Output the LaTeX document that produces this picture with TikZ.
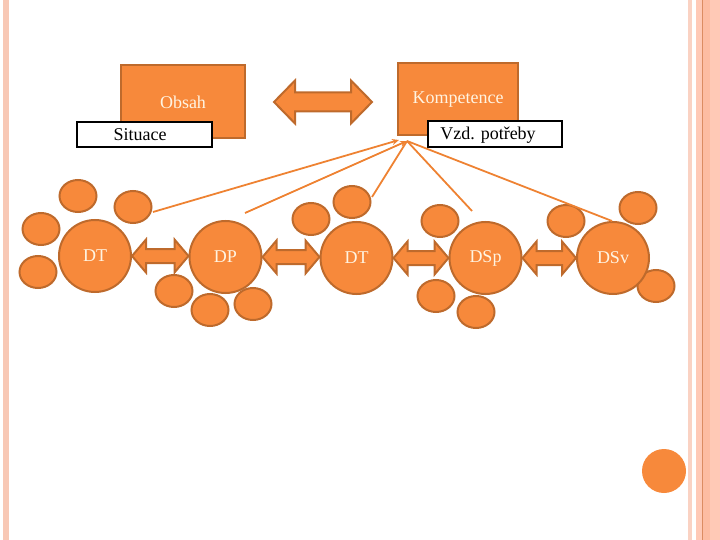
\documentclass[tikz,border=0pt]{standalone}
\usepackage{fontspec}
\setmainfont{Liberation Serif}
\usetikzlibrary{shapes.geometric,calc,arrows.meta}
\definecolor{orfill}{HTML}{F7893B}
\definecolor{ordraw}{HTML}{BE6A2C}
\definecolor{ortext}{HTML}{FFF4E2}
\definecolor{orline}{HTML}{EE8232}
\definecolor{stripeA}{HTML}{F8C8B5}
\definecolor{stripeB}{HTML}{FAD2C3}
\definecolor{stripeC}{HTML}{FFC9B6}
\definecolor{stripeD}{HTML}{FDBCA2}
\definecolor{stripeE}{HTML}{DC8C62}
\tikzset{
  txt/.style={font=\fontsize{18}{20}\selectfont},
  obox/.style={txt, draw=ordraw, fill=orfill, line width=2pt, text=ortext, inner sep=0pt},
  wbox/.style={txt, draw=black, fill=white, line width=2.2pt, inner sep=0pt},
  bigc/.style={txt, circle, draw=ordraw, fill=orfill, line width=2pt, text=ortext, minimum size=72pt, inner sep=0pt},
  smallc/.style={ellipse, draw=ordraw, fill=orfill, line width=2pt, minimum width=37pt, minimum height=32pt, inner sep=0pt},
  fatarr/.style={draw=ordraw, fill=orfill, line width=2pt, line join=miter},
  conn/.style={draw=orline, line width=1.8pt},
  connarr/.style={conn, -{Stealth[length=7pt,width=6pt]}}
}
\newcommand\fatarrow[5]{%
  \path[fatarr] let \p1=(#1), \p2=(#2) in
    (\x1,\y1) -- (\x1+#3pt,\y1+#4pt) -- (\x1+#3pt,\y1+#5pt) -- (\x2-#3pt,\y1+#5pt)
    -- (\x2-#3pt,\y1+#4pt) -- (\x2,\y1) -- (\x2-#3pt,\y1-#4pt) -- (\x2-#3pt,\y1-#5pt)
    -- (\x1+#3pt,\y1-#5pt) -- (\x1+#3pt,\y1-#4pt) -- cycle;}
\begin{document}
\begin{tikzpicture}[x=1pt,y=-1pt]
\useasboundingbox (0,0) rectangle (720,540);
% decorative stripes
\fill[stripeA] (3,0) rectangle (9,540);
\fill[stripeB] (688,0) rectangle (692,540);
\fill[stripeC] (696,0) rectangle (720,540);
\fill[stripeD] (703,0) rectangle (710,540);
\fill[stripeE] (701.5,0) rectangle (703,540);
% top boxes
\node[obox, minimum width=124pt, minimum height=73pt] (obsah) at (183,101.5) {};
\node[txt, text=ortext] (obsahT) at (183,102) {Obsah};
\node[obox, minimum width=120pt, minimum height=72pt] (komp) at (458,99) {};
\node[txt, text=ortext] (kompT) at (458,100) {Kompetence};
\node[wbox, minimum width=135pt, minimum height=25pt] (sit) at (144.5,134.5) {};
\node[txt] (sitT) at (140,135) {Situace};
\node[wbox, minimum width=134pt, minimum height=26pt] (vzd) at (495,134) {};
\node[txt] (vzdT) at (488,135) {Vzd. potřeby};
% top double arrow
\coordinate (al) at (274,102);
\coordinate (ar) at (372,102);
\fatarrow{al}{ar}{21}{21.5}{9.5}
% small circles
\node[smallc] (s1) at (78,196) {};
\node[smallc] (s2) at (133,207) {};
\node[smallc] (s3) at (41,229) {};
\node[smallc] (s4) at (38,272) {};
\node[smallc] (s5) at (174,291) {};
\node[smallc] (s6) at (210,310) {};
\node[smallc] (s7) at (253,304) {};
\node[smallc] (s8) at (311,219) {};
\node[smallc] (s9) at (352,202) {};
\node[smallc] (s10) at (440,221) {};
\node[smallc] (s11) at (436,296) {};
\node[smallc] (s12) at (476,312) {};
\node[smallc] (s13) at (566,221) {};
\node[smallc] (s14) at (638,208) {};
\node[smallc] (s15) at (656,286) {};
% big circles
\node[bigc] (dt1) at (95,256) {DT};
\node[bigc] (dp) at (225.5,257) {DP};
\node[bigc] (dt2) at (356.5,258) {DT};
\node[bigc] (dsp) at (485.5,258) {DSp};
\node[bigc] (dsv) at (613,258) {DSv};
% double arrows between circles
\fatarrow{dt1.east}{dp.west}{14}{16.5}{7}
\fatarrow{dp.east}{dt2.west}{14}{16.5}{7}
\fatarrow{dt2.east}{dsp.west}{14}{16.5}{7}
\fatarrow{dsp.east}{dsv.west}{14}{16.5}{7}
% converging connectors
\coordinate (k1) at (399,140);
\coordinate (k2) at (407,141);
\coordinate (c1) at (153,212);
\coordinate (c2) at (245,213);
\coordinate (c3) at (372,197);
\coordinate (c4) at (472,211);
\coordinate (c5) at (612,221);
\draw[connarr] (c1) -- (k1);
\draw[connarr] (c2) -- (k2);
\draw[conn] (c3) -- (k2);
\draw[conn] (c4) -- (k2);
\draw[conn] (c5) -- (k2);
% bottom right dot
\node[circle, fill=orfill, minimum size=44pt, inner sep=0pt] (dot) at (664,471) {};
\end{tikzpicture}
\end{document}
